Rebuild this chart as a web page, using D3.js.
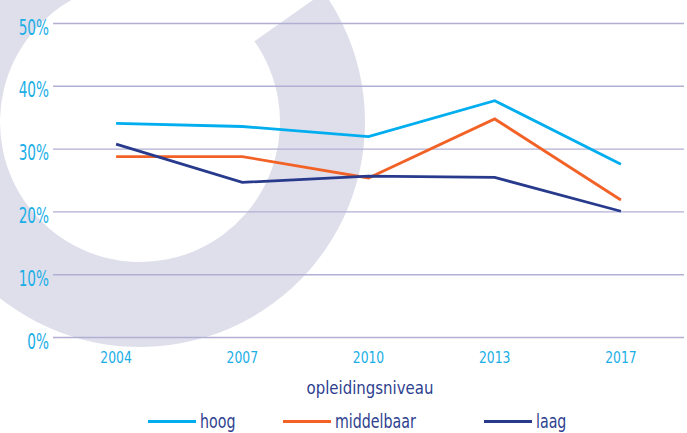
<!DOCTYPE html>
<html>
<head>
<meta charset="utf-8">
<script src="https://cdn.jsdelivr.net/npm/d3@7"></script>
<style>
  html, body { margin: 0; padding: 0; background: #ffffff; }
  svg { display: block; }
  text { font-family: "DejaVu Sans Condensed", "DejaVu Sans", sans-serif; }
</style>
</head>
<body>
<svg id="chart" width="687" height="433"></svg>
<script>
const years = ["2004", "2007", "2010", "2013", "2017"];
const hoog = [34.1, 33.6, 32.0, 37.7, 27.6];
const middelbaar = [28.8, 28.8, 25.4, 34.8, 21.9];
const laag = [30.8, 24.7, 25.7, 25.5, 20.1];
const yTicks = [0, 10, 20, 30, 40, 50];
const seriesNames = ["hoog", "middelbaar", "laag"];
const seriesColors = ["#00aeef", "#f26227", "#283a8c"];
const axisTitle = "opleidingsniveau";

const series = [hoog, middelbaar, laag];
const svg = d3.select("#chart");

// decorative background ring
svg.append("path")
  .attr("transform", "translate(140,122)")
  .attr("d", d3.arc()({
    innerRadius: 140, outerRadius: 225,
    startAngle: 54.8 * Math.PI / 180, endAngle: 2 * Math.PI
  }))
  .attr("fill", "#dfdfec");

const x = d3.scalePoint().domain(years).range([53, 684]).padding(0.5);
const y = d3.scaleLinear().domain([0, 50]).range([337.5, 23.5]);

// gridlines
svg.append("g").selectAll("line").data(yTicks).join("line")
  .attr("x1", 53).attr("x2", 684)
  .attr("y1", d => y(d)).attr("y2", d => y(d))
  .attr("stroke", "#b2afd4").attr("stroke-width", 1.4);

// y tick labels
svg.append("g").selectAll("text").data(yTicks).join("text")
  .attr("transform", d => `translate(49,${y(d) + 11}) scale(0.74,1)`)
  .attr("text-anchor", "end")
  .attr("font-size", 20.5)
  .attr("fill", "#1aaee6")
  .text(d => d + "%");

// x tick labels
svg.append("g").selectAll("text").data(years).join("text")
  .attr("transform", d => `translate(${x(d)},363.3) scale(0.86,1)`)
  .attr("text-anchor", "middle")
  .attr("font-size", 16)
  .attr("fill", "#1aaee6")
  .text(d => d);

// axis title
svg.append("text")
  .attr("transform", "translate(370,394) scale(0.9,1)")
  .attr("text-anchor", "middle")
  .attr("font-size", 18.5)
  .attr("fill", "#2e3f8f")
  .text(axisTitle);

// lines
const line = d3.line().x((d, i) => x(years[i])).y(d => y(d));
svg.append("g").selectAll("path").data(series).join("path")
  .attr("d", d => line(d))
  .attr("fill", "none")
  .attr("stroke", (d, i) => seriesColors[i])
  .attr("stroke-width", 2.8)
  .attr("stroke-linejoin", "miter");

// legend
const legendX = [148, 283, 484];
const lg = svg.append("g").selectAll("g").data(seriesNames).join("g")
  .attr("transform", (d, i) => `translate(${legendX[i]},421.5)`);
lg.append("line")
  .attr("x1", 0).attr("x2", 48).attr("y1", 0).attr("y2", 0)
  .attr("stroke", (d, i) => seriesColors[i]).attr("stroke-width", 2.8);
lg.append("text")
  .attr("transform", "translate(52,6.3) scale(0.79,1)")
  .attr("font-size", 20)
  .attr("fill", "#2e3f8f")
  .text(d => d);
</script>
</body>
</html>
